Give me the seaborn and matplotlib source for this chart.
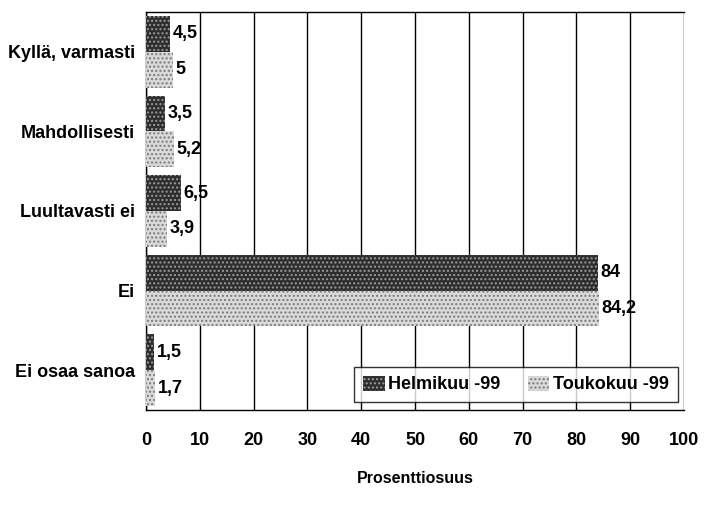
import pandas as pd
import matplotlib
matplotlib.use('Agg')
import matplotlib.pyplot as plt
import seaborn as sns

# Data
categories = ['Kyllä, varmasti', 'Mahdollisesti', 'Luultavasti ei', 'Ei', 'Ei osaa sanoa']
helmikuu = [4.5, 3.5, 6.5, 84, 1.5]
toukokuu = [5, 5.2, 3.9, 84.2, 1.7]
series_names = ['Helmikuu -99', 'Toukokuu -99']
x_ticks = [0, 10, 20, 30, 40, 50, 60, 70, 80, 90, 100]

df = pd.DataFrame({
    'Vastaus': categories * 2,
    'Arvo': helmikuu + toukokuu,
    'Aika': [series_names[0]] * len(categories) + [series_names[1]] * len(categories),
})

sns.set_style('white')
plt.rcParams['font.family'] = ['Liberation Sans', 'DejaVu Sans']
plt.rcParams['font.weight'] = 'bold'
plt.rcParams['text.color'] = 'black'
plt.rcParams['xtick.color'] = 'black'
plt.rcParams['ytick.color'] = 'black'
plt.rcParams['axes.labelcolor'] = 'black'
plt.rcParams['hatch.linewidth'] = 1.0

fig = plt.figure(figsize=(7.07, 5.13), dpi=100)
ax = fig.add_axes([0.2065, 0.2008, 0.761, 0.7758])

colors = ['#2e2e2e', '#d9d9d9']
sns.barplot(data=df, y='Vastaus', x='Arvo', hue='Aika', orient='h',
            palette=colors, width=0.9, ax=ax, zorder=3, saturation=1)

# hatching to mimic the dotted print fills
hatch_cols = ['#9a9a9a', '#7a7a7a']
for cont, hc in zip(ax.containers, hatch_cols):
    for p in cont:
        p.set_hatch('....')
        p.set_edgecolor(hc)
        p.set_linewidth(0)
    ax.bar_label(cont, labels=[f'{v:g}'.replace('.', ',') for v in cont.datavalues],
                 padding=2, fontsize=13, fontweight='bold', color='black')

ax.set_xlim(0, 100)
ax.set_xticks(x_ticks)
ax.set_xticklabels([str(t) for t in x_ticks], fontsize=13, fontweight='bold')
ax.tick_params(axis='x', pad=16, length=0)
ax.tick_params(axis='y', length=0, labelsize=13, pad=8)
for lab in ax.get_yticklabels():
    lab.set_fontweight('bold')
ax.grid(axis='x', color='black', linewidth=1, zorder=0)
ax.grid(axis='y', visible=False)
for s in ax.spines.values():
    s.set_color('black')
    s.set_linewidth(1)
ax.spines['right'].set_visible(False)

ax.set_ylabel('')
ax.set_xlabel('Prosenttiosuus', fontsize=11.5, fontweight='bold', labelpad=16)

leg = ax.legend(loc='lower right', bbox_to_anchor=(0.995, 0.01), ncol=2, frameon=True,
                fontsize=13, handlelength=1.2, handleheight=0.9, handletextpad=0.2,
                columnspacing=1.5, borderpad=0.5, borderaxespad=0.2, fancybox=False)
leg.get_frame().set_edgecolor('black')
leg.get_frame().set_linewidth(1)
for h, hc in zip(leg.get_patches(), hatch_cols):
    h.set_hatch('....')
    h.set_edgecolor(hc)
    h.set_linewidth(0)
for t in leg.get_texts():
    t.set_fontweight('bold')

fig.savefig('out.png', dpi=100)
